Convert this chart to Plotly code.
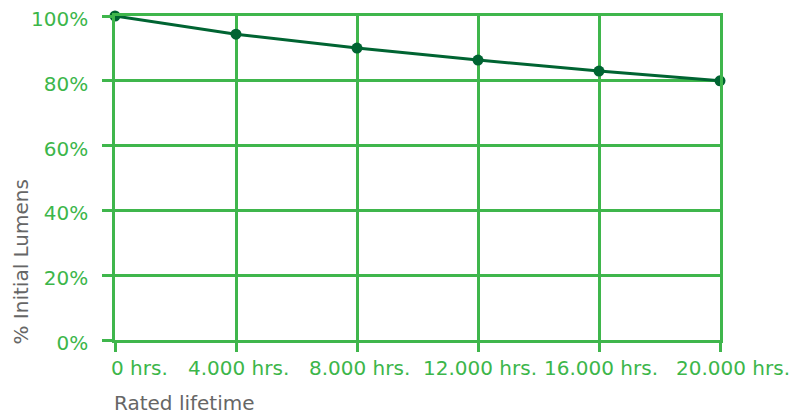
import plotly.graph_objects as go

hours = [0, 4000, 8000, 12000, 16000, 20000]
hour_labels = ["0 hrs.", "4.000 hrs.", "8.000 hrs.", "12.000 hrs.", "16.000 hrs.", "20.000 hrs."]
lumens = [100, 94.4, 90.1, 86.4, 83.0, 80.0]
y_ticks = [0, 20, 40, 60, 80, 100]
y_labels = ["0%", "20%", "40%", "60%", "80%", "100%"]

GRID = "#3fb64c"
TEXT_GREEN = "#3cb64a"
LINE = "#006432"
GRAY = "#666666"
FONT = "DejaVu Sans"

fig = go.Figure()
fig.add_trace(go.Scatter(
    x=hours, y=lumens, mode="lines+markers",
    line=dict(color=LINE, width=3),
    marker=dict(color=LINE, size=11),
    cliponaxis=False, showlegend=False, hoverinfo="skip",
))

annotations = []
for i, (h, lab) in enumerate(zip(hours, hour_labels)):
    if i == 0:
        xa, xs = "left", -6
    elif i == len(hours) - 1:
        xa, xs = "center", 13
    else:
        xa, xs = "center", 2
    annotations.append(dict(
        x=h, y=0, xref="x", yref="y", text=lab, showarrow=False,
        xanchor=xa, yanchor="middle", xshift=xs, yshift=-28,
        font=dict(family=FONT, size=20, color=TEXT_GREEN),
    ))
annotations.append(dict(
    x=0, y=0, xref="x", yref="y", text="Rated lifetime", showarrow=False,
    xanchor="left", yanchor="middle", xshift=-3, yshift=-63,
    font=dict(family=FONT, size=20, color=GRAY),
))
annotations.append(dict(
    x=0, y=0, xref="paper", yref="y", text="% Initial Lumens", showarrow=False,
    textangle=-90, xanchor="center", yanchor="bottom", xshift=-95, yshift=-7,
    font=dict(family=FONT, size=20, color=GRAY),
))

fig.update_layout(
    width=799, height=406,
    margin=dict(l=107, r=87, t=8, b=74),
    paper_bgcolor="white", plot_bgcolor="white",
    font=dict(family=FONT, size=20, color=TEXT_GREEN),
    annotations=annotations,
    xaxis=dict(
        range=[0, 20000], tickvals=hours, showticklabels=False, automargin=False,
        showgrid=True, gridcolor=GRID, gridwidth=2.5,
        zeroline=False, showline=True, linecolor=GRID, linewidth=2.5, mirror=True,
        ticks="outside", ticklen=9, tickwidth=2.5, tickcolor=GRID,
    ),
    yaxis=dict(
        range=[0, 100], tickvals=y_ticks, ticktext=y_labels, automargin=False,
        showgrid=True, gridcolor=GRID, gridwidth=2.5,
        zeroline=False, showline=True, linecolor=GRID, linewidth=2.5, mirror=True,
        ticks="outside", ticklen=10, tickwidth=2.5, tickcolor=GRID,
        ticklabelstandoff=10, ticklabeloverflow="allow", ticklabelshift=3,
        tickfont=dict(family=FONT, size=20, color=TEXT_GREEN),
    ),
)

fig.write_html("out.html")
